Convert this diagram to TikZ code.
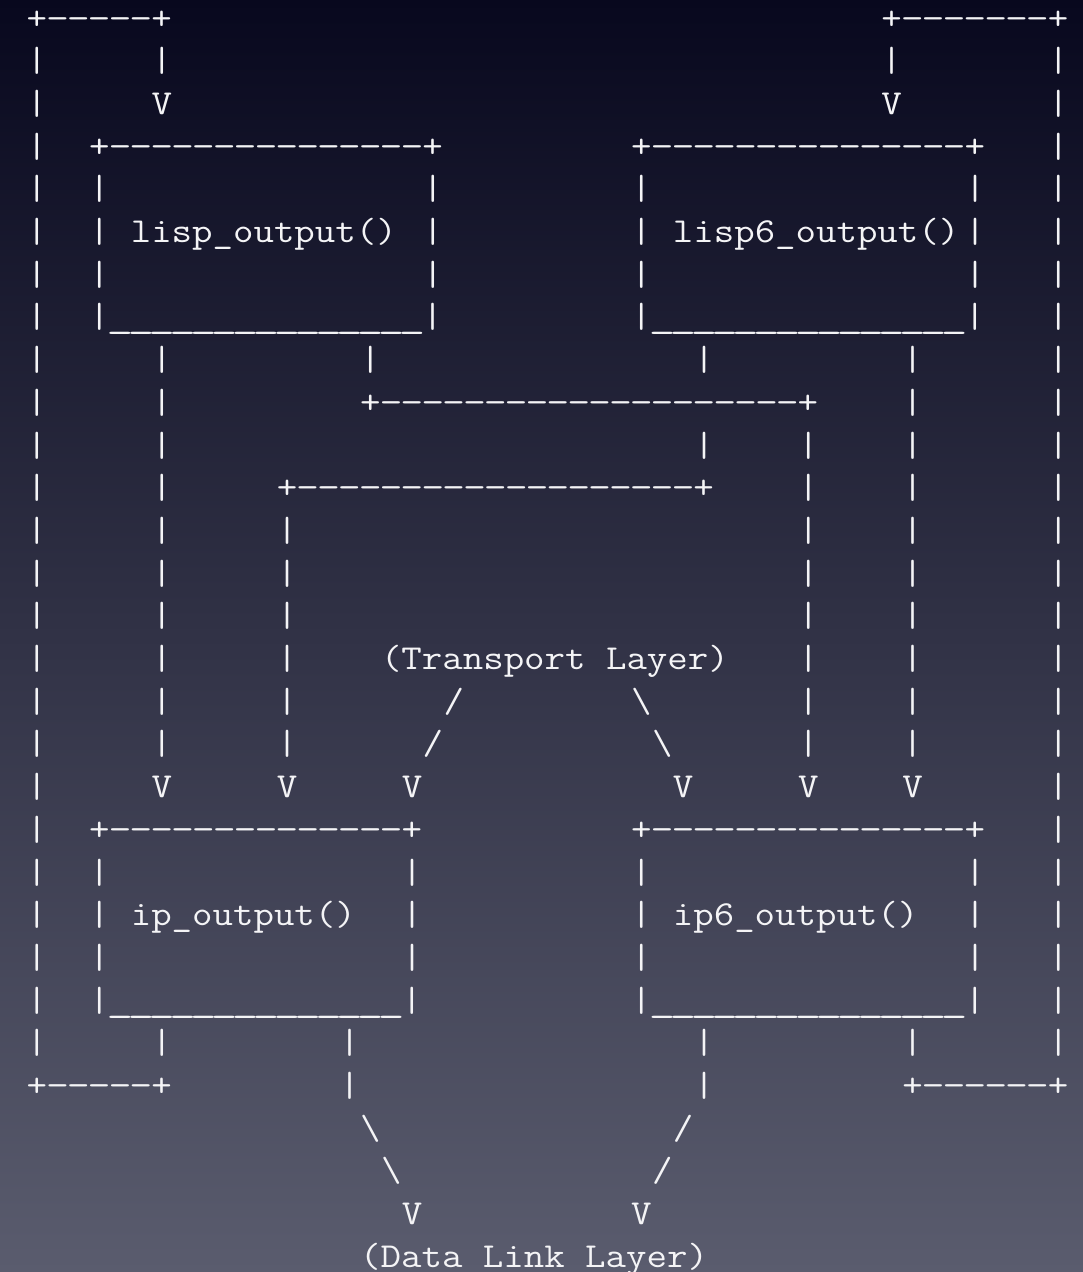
\documentclass[tikz,border=0pt]{standalone}
\usepackage{fontspec}
\newfontfamily\asciifont[Ligatures=TeXOff]{Latin Modern Mono}
\definecolor{bgtop}{HTML}{08081E}
\definecolor{bgmid}{HTML}{30324D}
\definecolor{bgbot}{HTML}{5A5C6E}
\definecolor{fg}{HTML}{F4F4F6}
\tikzset{
  asc/.style={text=fg, inner sep=0pt, outer sep=0pt, anchor=base west,
    font=\asciifont\fontsize{35}{35}\selectfont},
}
\newcommand\cw{20.85}
\newcommand\rh{42.7}
% place text segment at row #1, column #2
\newcommand\seg[3]{\node[asc] (n#1-#2) at ({26.575+\cw*#2},{-(29+\rh*#1)}) {\scalebox{1.135}[1]{#3}};}
% place vertical bars at row #1 in the listed columns
\newcommand\bars[2]{\foreach \cc in {#2} {\seg{#1}{\cc}{|}}}
\newcommand\bs{\textbackslash}
% one underscore / dash in its cell, repeated n times
\newcommand\us{\makebox[0.525em][c]{\scalebox{1.3}[1]{\_}}}
\newcommand\dsh{\makebox[0.525em][c]{\scalebox{1.12}[1]{-}}}
\newcommand\uss[1]{\foreach \ii in {1,...,#1}{\us}}
\newcommand\dshs[1]{\foreach \ii in {1,...,#1}{\dsh}}
\begin{document}
\begin{tikzpicture}[x=1pt,y=1pt]
\shade[top color=bgtop, middle color=bgmid, bottom color=bgbot] (0,0) rectangle (1083,-1272);
\useasboundingbox (0,0) rectangle (1083,-1272);
% row 0
\seg{0}{0}{+\dshs{5}+}
\seg{0}{41}{+\dshs{7}+}
% rows 1-2
\bars{1}{0,6,41,49}
\bars{2}{0,49}
\seg{2}{6}{V}
\seg{2}{41}{V}
% row 3 (top boxes)
\bars{3}{0,49}
\seg{3}{3}{+\dshs{15}+}
\seg{3}{29}{+\dshs{15}+}
\bars{4}{0,3,19,29,45,49}
\bars{5}{0,3,19,29,45,49}
\seg{5}{5}{lisp\_output()}
\seg{5}{31}{lisp6\_output()}
\bars{6}{0,3,19,29,45,49}
\bars{7}{0,49}
\seg{7}{3}{|\uss{15}|}
\seg{7}{29}{|\uss{15}|}
% rows 8-17 connectors
\bars{8}{0,6,16,32,42,49}
\bars{9}{0,6,42,49}
\seg{9}{16}{+\dshs{20}+}
\bars{10}{0,6,32,37,42,49}
\bars{11}{0,6,37,42,49}
\seg{11}{12}{+\dshs{19}+}
\bars{12}{0,6,12,37,42,49}
\bars{13}{0,6,12,37,42,49}
\bars{14}{0,6,12,37,42,49}
\bars{15}{0,6,12,37,42,49}
\seg{15}{17}{(Transport Layer)}
\bars{16}{0,6,12,37,42,49}
\seg{16}{20}{/}
\seg{16}{29}{\bs}
\bars{17}{0,6,12,37,42,49}
\seg{17}{19}{/}
\seg{17}{30}{\bs}
% row 18 arrows
\bars{18}{0,49}
\foreach \cc in {6,12,18,31,37,42} {\seg{18}{\cc}{V}}
% bottom boxes
\bars{19}{0,49}
\seg{19}{3}{+\dshs{14}+}
\seg{19}{29}{+\dshs{15}+}
\bars{20}{0,3,18,29,45,49}
\bars{21}{0,3,18,29,45,49}
\seg{21}{5}{ip\_output()}
\seg{21}{31}{ip6\_output()}
\bars{22}{0,3,18,29,45,49}
\bars{23}{0,49}
\seg{23}{3}{|\uss{14}|}
\seg{23}{29}{|\uss{15}|}
\bars{24}{0,6,15,32,42,49}
% row 25
\seg{25}{0}{+\dshs{5}+}
\bars{25}{15,32}
\seg{25}{42}{+\dshs{6}+}
% data link
\seg{26}{16}{\bs}
\seg{26}{31}{/}
\seg{27}{17}{\bs}
\seg{27}{30}{/}
\seg{28}{18}{V}
\seg{28}{29}{V}
\seg{29}{16}{(Data Link Layer)}
\end{tikzpicture}
\end{document}
